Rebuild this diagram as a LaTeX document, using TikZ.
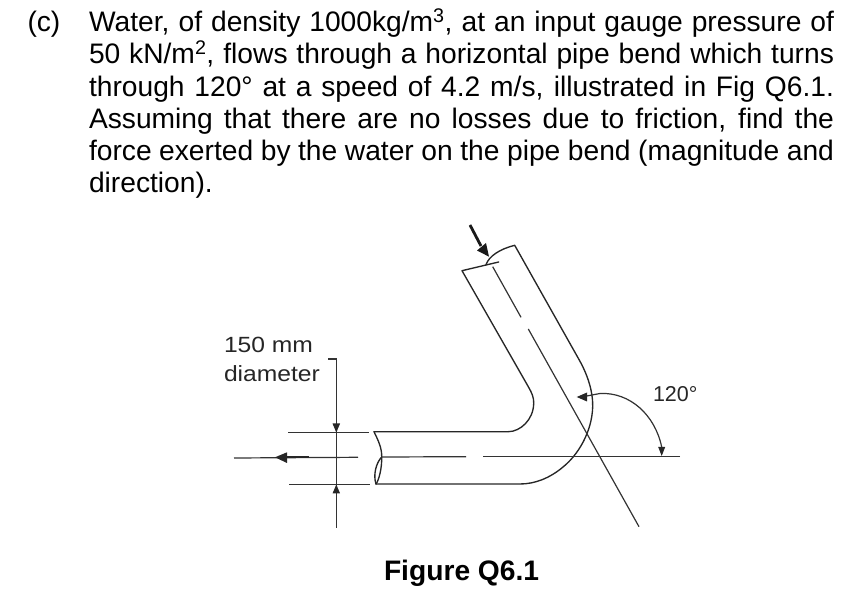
\documentclass[tikz,border=0pt]{standalone}
\usepackage{fontspec}
\setmainfont{Liberation Sans}
\newfontfamily\widesans[FakeStretch=1.12]{Liberation Sans}
\usetikzlibrary{arrows.meta}
\tikzset{
  x=1pt,y=-1pt,
  body/.style={anchor=base west,inner sep=0pt,outer sep=0pt,font=\fontsize{28.2}{32}\selectfont},
  small/.style={anchor=base west,inner sep=0pt,outer sep=0pt,font=\fontsize{21.5}{24}\selectfont,text=black!85},
  smallwide/.style={small,font=\fontsize{22}{24}\widesans},
  caption/.style={anchor=base west,inner sep=0pt,outer sep=0pt,font=\fontsize{28.2}{32}\selectfont\bfseries},
  pipe/.style={line width=1.35pt,black!85,line cap=round,line join=round},
  thin line/.style={line width=1.2pt,black!80},
}
\newcommand{\just}[2]{\makebox[#1pt][s]{#2}}
\begin{document}
\begin{tikzpicture}
\useasboundingbox (0,0) rectangle (855,593);
\node[body] (c) at (27.5,32) {(c)};
\node[body] (l1) at (89,32) {\just{745}{Water, of density 1000kg/m\textsuperscript{3}, at an input gauge pressure of}};
\node[body] (l2) at (89,64) {\just{745}{50 kN/m\textsuperscript{2}, flows through a horizontal pipe bend which turns}};
\node[body] (l3) at (89,96.5) {\just{745}{through 120° at a speed of 4.2 m/s, illustrated in Fig Q6.1.}};
\node[body] (l4) at (89,129) {\just{745}{Assuming that there are no losses due to friction, find the}};
\node[body] (l5) at (89,161) {\just{745}{force exerted by the water on the pipe bend (magnitude and}};
\node[body] (l6) at (89,193) {direction).};
\node[smallwide] (d1) at (224,352.5) {150 mm};
\node[smallwide] (d2) at (224,381.5) {diameter};
\node[small] (a) at (653,401.5) {120°};
\node[caption] (cap) at (384,581) {Figure Q6.1};
% pipe
\draw[pipe] (374,431.7) -- (508.3,431.7) .. controls (520,431.7) and (533.5,420) .. (533.7,403.3) .. controls (534,398) and (532,393) .. (528.3,386.7) -- (462,270.7) -- (498.7,262);
\draw[pipe] (486,264.7) .. controls (489,256) and (500,249) .. (514.7,245.3) -- (578.3,358.3) .. controls (588,375) and (593,392) .. (592.7,406.7) .. controls (592,432) and (578,455) .. (563,467) .. controls (550,478) and (535,484) .. (520,484) -- (376,484);
\draw[pipe] (374,431.7) .. controls (378,440) and (382,448) .. (381.7,457) .. controls (382,468) and (379,480) .. (376,484);
\draw[pipe] (381.7,457) .. controls (376,463) and (373,475) .. (376,484);
% centre lines
\coordinate (cl1) at (492.7,266.7);
\coordinate (cl2) at (521,317.3);
\coordinate (cl3) at (528.3,329);
\coordinate (cl4) at (639,526.7);
\draw[thin line] (cl1) -- (cl2);
\draw[thin line] (cl3) -- (cl4);
\coordinate (h1) at (680,456.7);
\coordinate (h2) at (483.3,456.7);
\coordinate (h3) at (466,456.7);
\coordinate (h4) at (381.7,457);
\coordinate (h5) at (358,457.3);
\coordinate (h6) at (234,458);
\draw[thin line] (h1) -- (h2);
\draw[thin line] (h3) -- (h4);
\draw[thin line] (h5) -- (h6);
% dimension
\draw[thin line] (288,432.5) -- (369,432.5);
\draw[thin line] (289,484.5) -- (370,484.5);
\draw[thin line] (328.3,359) -- (336.3,359) -- (336.3,528);
\fill[black!85] (336.3,432.5) -- (332.5,423.5) -- (340.1,423.5) -- cycle;
\fill[black!85] (336.3,484.5) -- (332.5,493.5) -- (340.1,493.5) -- cycle;
% flow arrows
\draw[line width=2.4pt,black!85] (309,457.3) -- (285,457.3);
\fill[black!85] (275,457.3) -- (287,452.3) -- (287,463) -- cycle;
\draw[line width=2.8pt,black!90] (470,225) -- (481,246);
\fill[black!90] (489,256.7) -- (477,250.5) -- (486,243) -- cycle;
% angle
\draw[thin line] (661.7,447) .. controls (655,415) and (630,392) .. (600,393.5) -- (584,396.5);
\fill[black!85] (576.7,397) -- (587,392.5) -- (587,401.5) -- cycle;
\fill[black!85] (661.7,456) -- (658.2,447) -- (665.2,447) -- cycle;
\end{tikzpicture}
\end{document}
